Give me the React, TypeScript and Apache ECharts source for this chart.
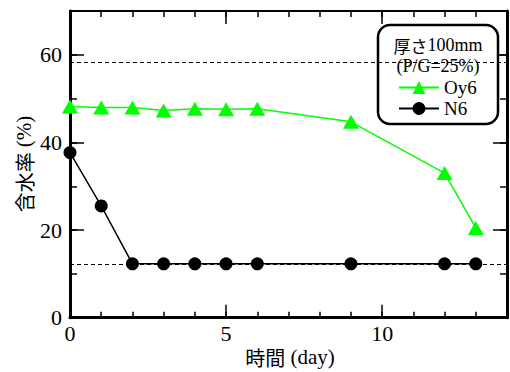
import React, { useEffect, useRef } from "react";
import * as echarts from "echarts";

const days = [0, 1, 2, 3, 4, 5, 6, 9, 12, 13];
const oy6 = [48.2, 48.0, 48.0, 47.3, 47.7, 47.6, 47.7, 44.7, 33.0, 20.5];
const n6 = [37.7, 25.5, 12.3, 12.3, 12.3, 12.3, 12.3, 12.3, 12.3, 12.3];
const refLines = [58.2, 12.2];
const seriesNames = ["Oy6", "N6"];
const legendTitleCjk = "厚さ";
const legendTitleLatin = "100mm";
const legendSubtitle = "(P/G=25%)";
const xTitleCjk = "時間";
const xTitleLatin = " (day)";
const yTitleCjk = "含水率";
const yTitleLatin = " (%)";

const SERIF = '"Liberation Serif", serif';
const CJK = '"Noto Sans CJK JP", sans-serif';
const FONT = '"Liberation Serif", "Noto Sans CJK JP", serif';

export default function App() {
  const ref = useRef<HTMLDivElement>(null);
  useEffect(() => {
    if (!ref.current) return;
    const chart = echarts.init(ref.current, null, { renderer: "svg" });
    const common = { min: 0, type: "value" as const, splitLine: { show: false } };
    const line = (w: number, show = true) => ({ show, onZero: false, lineStyle: { color: "#000", width: w } });
    const tick = (len: number) => ({ show: true, inside: true, length: len, lineStyle: { color: "#000", width: 1.5 } });
    const rich = (size: number) => ({
      c: { fontFamily: CJK, fontSize: size - 1, lineHeight: size, fill: "#000", color: "#000" },
      l: { fontFamily: SERIF, fontSize: size, lineHeight: size, fill: "#000", color: "#000" },
    });
    chart.setOption({
      animation: false,
      backgroundColor: "#fff",
      textStyle: { fontFamily: FONT, color: "#000" },
      grid: { left: 70, top: 11, right: -3.6, bottom: 54.3, containLabel: false },
      xAxis: [
        { ...common, max: 14, interval: 1, position: "bottom", axisLine: line(3), axisTick: tick(6), axisLabel: { show: false } },
        {
          ...common, max: 14, interval: 5, position: "bottom", axisLine: line(3, false), axisTick: tick(13),
          axisLabel: { show: true, fontSize: 22, margin: 5, color: "#000", fontFamily: SERIF, formatter: (v: number) => (v % 5 === 0 ? String(v) : "") },
        },
        { ...common, max: 14, interval: 1, position: "top", axisLine: line(2), axisTick: tick(6), axisLabel: { show: false } },
        { ...common, max: 14, interval: 5, position: "top", axisLine: line(2, false), axisTick: tick(13), axisLabel: { show: false } },
      ],
      yAxis: [
        { ...common, max: 70, interval: 10, position: "left", axisLine: line(3), axisTick: tick(7), axisLabel: { show: false } },
        {
          ...common, max: 70, interval: 20, position: "left", axisLine: line(3, false), axisTick: tick(14),
          axisLabel: { show: true, fontSize: 22, margin: 8, color: "#000", fontFamily: SERIF, formatter: (v: number) => (v % 20 === 0 ? String(v) : "") },
        },
        { ...common, max: 70, interval: 10, position: "right", axisLine: line(3), axisTick: tick(7), axisLabel: { show: false } },
        { ...common, max: 70, interval: 20, position: "right", axisLine: line(3, false), axisTick: tick(14), axisLabel: { show: false } },
      ],
      legend: {
        data: seriesNames,
        orient: "vertical",
        left: 398,
        top: 78,
        padding: 0,
        itemWidth: 40,
        itemHeight: 16,
        itemGap: 2,
        z: 10,
        textStyle: { fontSize: 19, lineHeight: 16, color: "#000", fontFamily: SERIF },
      },
      graphic: [
        {
          type: "rect", z: 5, shape: { x: 378, y: 25, width: 120, height: 99, r: 12 },
          style: { fill: "#fff", stroke: "#000", lineWidth: 2.5 },
        },
        {
          type: "text", z: 10, x: 438, y: 45,
          style: {
            text: `{c|${legendTitleCjk}}{l|${legendTitleLatin}}`, rich: rich(18),
            align: "center", verticalAlign: "middle",
          },
        },
        {
          type: "text", z: 10, x: 438, y: 66,
          style: {
            text: legendSubtitle, fontSize: 18, lineHeight: 18, fontFamily: SERIF, fill: "#000",
            align: "center", verticalAlign: "middle",
          },
        },
        {
          type: "text", z: 10, x: 290, y: 357,
          style: { text: `{c|${xTitleCjk}}{l|${xTitleLatin}}`, rich: rich(21), align: "center", verticalAlign: "middle" },
        },
        {
          type: "text", z: 10, x: 24, y: 164, rotation: Math.PI / 2,
          style: { text: `{c|${yTitleCjk}}{l|${yTitleLatin}}`, rich: rich(21), align: "center", verticalAlign: "middle" },
        },
      ],
      series: [
        {
          name: seriesNames[0], type: "line", xAxisIndex: 0, yAxisIndex: 0,
          data: days.map((d, i) => [d, oy6[i]]),
          symbol: "triangle", symbolSize: [16, 14],
          itemStyle: { color: "#00ff00" }, lineStyle: { color: "#00ff00", width: 1.5 },
        },
        {
          name: seriesNames[1], type: "line", xAxisIndex: 0, yAxisIndex: 0,
          data: days.map((d, i) => [d, n6[i]]),
          symbol: "circle", symbolSize: 13,
          itemStyle: { color: "#000" }, lineStyle: { color: "#000", width: 1.5 },
          markLine: {
            silent: true, symbol: "none", label: { show: false },
            lineStyle: { color: "#000", width: 1, type: [4, 3] },
            data: refLines.map((v) => ({ yAxis: v })),
          },
        },
      ],
    });
    return () => chart.dispose();
  }, []);
  return <div ref={ref} style={{ position: "absolute", left: 0, top: 0, width: 510, height: 372 }} />;
}
